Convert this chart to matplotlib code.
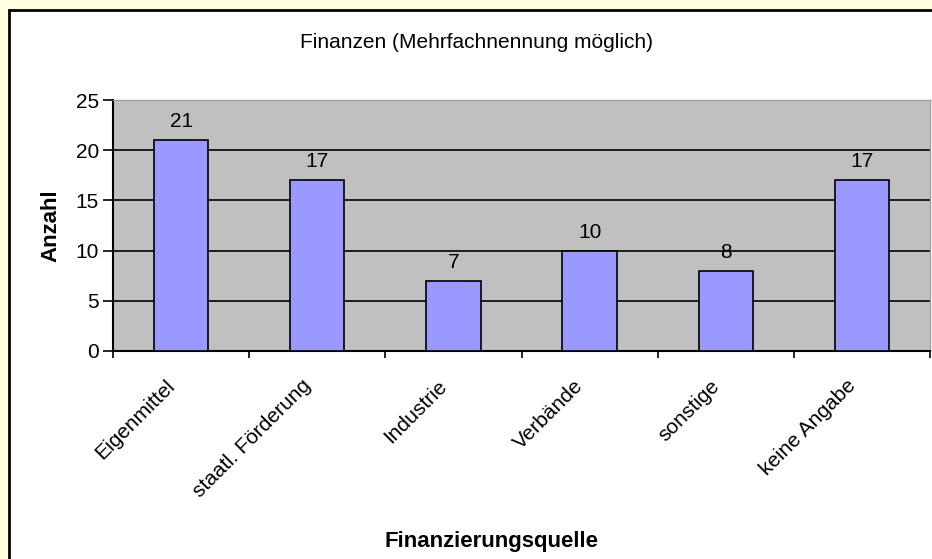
import matplotlib.pyplot as plt
from matplotlib.patches import Rectangle
import matplotlib.transforms as mtransforms
import numpy as np

# Daten
quellen = ["Eigenmittel", "staatl. Förderung", "Industrie", "Verbände", "sonstige", "keine Angabe"]
anzahl = [21, 17, 7, 10, 8, 17]
y_ticks = [0, 5, 10, 15, 20, 25]

plt.rcParams["font.family"] = ["Liberation Sans", "DejaVu Sans"]
FS = 15

fig = plt.figure(figsize=(9.32, 5.59), dpi=100)
fig.patch.set_facecolor("#FFFFE0")

# weisser Diagrammbereich mit schwarzem Rand
W, H = 932, 559
rahmen = Rectangle((9 / W, -0.05), 1.0, (H - 10) / H + 0.05, transform=fig.transFigure,
                   facecolor="white", edgecolor="black", linewidth=2, zorder=-5)
fig.patches.append(rahmen)

ax = fig.add_axes([113 / W, 1 - 351 / H, (930 - 113) / W, (351 - 100) / H])
ax.set_zorder(2)
ax.set_facecolor("#C0C0C0")

x = np.arange(len(quellen))
ax.bar(x, anzahl, width=0.4, color="#9999FF", edgecolor="black", linewidth=1.2, zorder=3)
for xi, v in zip(x, anzahl):
    ax.text(xi, v + 0.9, str(v), ha="center", va="bottom", fontsize=FS)

ax.set_xlim(-0.5, len(quellen) - 0.5)
ax.set_ylim(0, 25)
ax.set_yticks(y_ticks)
ax.yaxis.grid(True, color="black", linewidth=1.2, zorder=1)
ax.set_axisbelow(True)

ax.set_xticks(x)
ax.set_xticklabels(quellen, rotation=45, ha="right", va="center", rotation_mode="anchor", fontsize=FS)
ax.tick_params(axis="x", length=0, pad=23)
verschiebung = mtransforms.ScaledTranslation(-9 / 100, 0, fig.dpi_scale_trans)
for lab in ax.get_xticklabels():
    lab.set_transform(lab.get_transform() + verschiebung)
ax.set_xticks(np.arange(-0.5, len(quellen)), minor=True)
ax.tick_params(axis="x", which="minor", length=5, width=1.2, direction="out")
ax.tick_params(axis="y", length=7, width=1.2, direction="out", labelsize=FS, pad=3)

for s in ["top", "right"]:
    ax.spines[s].set_color("#A0A0A0")
    ax.spines[s].set_linewidth(1)
ax.spines["left"].set_linewidth(1.5)
ax.spines["bottom"].set_linewidth(1.5)

ax.set_ylabel("Anzahl", fontsize=16, fontweight="bold", labelpad=10)
fig.text(491 / W, 1 - 542 / H, "Finanzierungsquelle", ha="center", va="center", fontsize=16, fontweight="bold")
fig.text(476 / W, 1 - 43 / H, "Finanzen (Mehrfachnennung möglich)", ha="center", va="center", fontsize=15)

plt.savefig("out.png", dpi=100, facecolor=fig.get_facecolor())
